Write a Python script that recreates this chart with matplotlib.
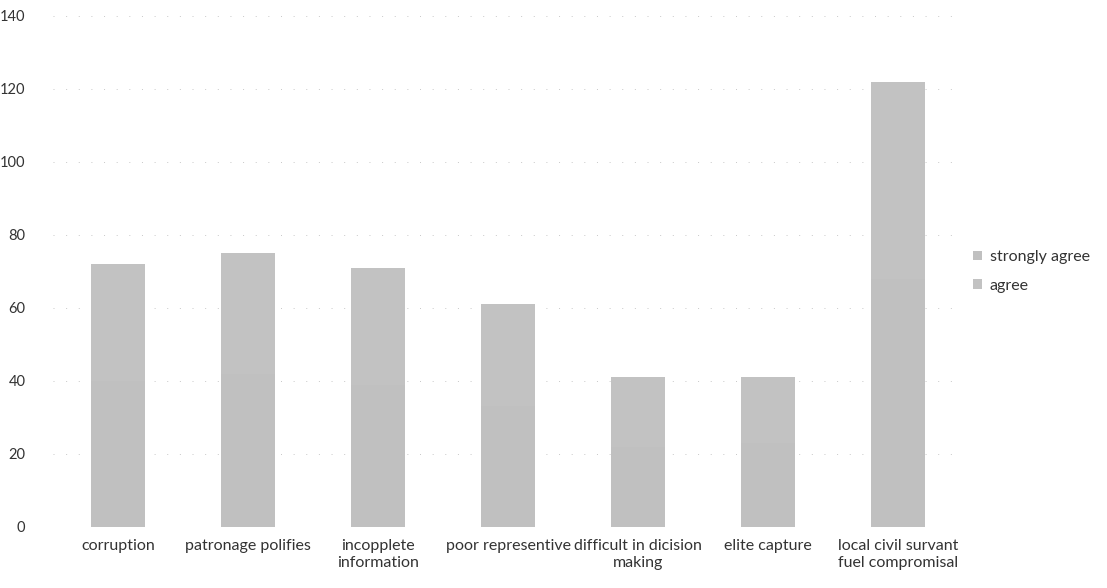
import numpy as np
import matplotlib
matplotlib.use("Agg")
import matplotlib.pyplot as plt

plt.rcParams['font.family'] = ['Lato', 'DejaVu Sans']

categories = ['corruption', 'patronage polifies', 'incopplete\ninformation',
              'poor representive', 'difficult in dicision\nmaking', 'elite capture',
              'local civil survant\nfuel compromisal']
# the scan shows only the stacked totals; split between series is estimated
strongly_agree = [40, 42, 39, 33, 22, 23, 68]
agree = [32, 33, 32, 28, 19, 18, 54]
series_names = ['strongly agree', 'agree']
y_ticks = [0, 20, 40, 60, 80, 100, 120, 140]

fig = plt.figure(figsize=(11.07, 5.88), dpi=100)
ax = fig.add_axes([0.048, 0.104, 0.822, 0.869])

x = np.arange(len(categories))
ax.bar(x, strongly_agree, width=0.41, color='#c0c0c0', label=series_names[0], zorder=2)
ax.bar(x, agree, width=0.41, bottom=strongly_agree, color='#c2c2c2', label=series_names[1], zorder=2)

ax.set_xlim(-0.5, len(categories) - 0.5)
ax.set_ylim(0, 140)
ax.set_yticks(y_ticks)
ax.set_xticks(x)
ax.set_xticklabels(categories, fontsize=11.5, color='#333333', linespacing=1.2)
ax.tick_params(axis='y', labelsize=10.5, labelcolor='#333333', length=0, pad=20)
ax.tick_params(axis='x', length=0, pad=9)
ax.yaxis.grid(True, linestyle=(0, (1, 12)), color='#c8c8c8', linewidth=0.7, zorder=0)
for s in ax.spines.values():
    s.set_visible(False)

ax.legend(loc='center left', bbox_to_anchor=(0.995, 0.5), frameon=False, fontsize=11.5,
          handlelength=0.55, handleheight=0.55, handletextpad=0.5, labelspacing=0.9,
          labelcolor='#333333')

fig.savefig('out.png', dpi=100)
